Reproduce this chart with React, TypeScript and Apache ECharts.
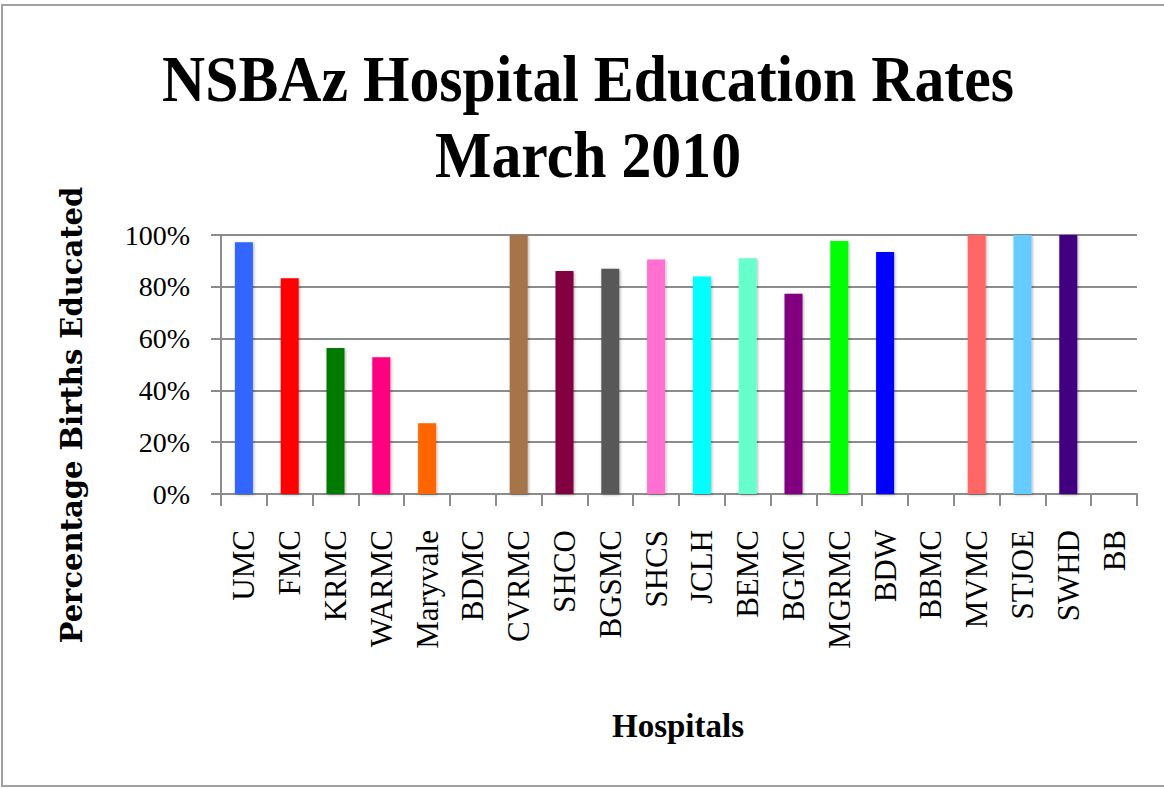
import React, { useEffect, useRef } from "react";
import * as echarts from "echarts";

const hospitals = ["UMC", "FMC", "KRMC", "WARMC", "Maryvale", "BDMC", "CVRMC", "SHCO", "BGSMC", "SHCS", "JCLH", "BEMC", "BGMC", "MGRMC", "BDW", "BBMC", "MVMC", "STJOE", "SWHD", "BB"];
const rates = [97.2, 83.3, 56.4, 52.8, 27.3, 0, 100, 86.1, 87.0, 90.5, 84.0, 91.0, 77.3, 97.7, 93.4, 0, 100, 100, 100, 0];
const barColors = ["#3366FF", "#FF0000", "#007A00", "#FF0080", "#FF6600", "#999999", "#A57448", "#800040", "#595959", "#FF6FD0", "#00FFFF", "#66FFCC", "#800080", "#00FF00", "#0000FF", "#999999", "#FF6666", "#66CCFF", "#400080", "#999999"];
const yTicks = [0, 20, 40, 60, 80, 100];
const titleLines = ["NSBAz Hospital Education Rates", "March 2010"];
const yAxisTitle = "Percentage Births Educated";
const xAxisTitle = "Hospitals";

export default function App() {
  const ref = useRef<HTMLDivElement>(null);
  useEffect(() => {
    if (!ref.current) return;
    const chart = echarts.init(ref.current, null, { renderer: "svg" });
    const axisGray = "#8c8c8c";
    chart.setOption({
      animation: false,
      backgroundColor: "#ffffff",
      graphic: [
        {
          type: "rect",
          shape: { x: 2, y: 5, width: 1180, height: 781 },
          style: { fill: "none", stroke: "#a0a0a0", lineWidth: 2 },
          silent: true,
        },
        {
          type: "text",
          x: 588,
          y: 79,
          scaleX: 0.92,
          style: {
            text: titleLines[0],
            font: "bold 65px 'Liberation Serif'",
            fill: "#000",
            textAlign: "center",
            textVerticalAlign: "middle",
          },
        },
        {
          type: "text",
          x: 588,
          y: 155,
          scaleX: 0.92,
          style: {
            text: titleLines[1],
            font: "bold 65px 'Liberation Serif'",
            fill: "#000",
            textAlign: "center",
            textVerticalAlign: "middle",
          },
        },
        {
          type: "text",
          x: 678,
          y: 726,
          style: {
            text: xAxisTitle,
            font: "bold 33px 'Liberation Serif'",
            fill: "#000",
            textAlign: "center",
            textVerticalAlign: "middle",
          },
        },
        {
          type: "text",
          x: 72,
          y: 415,
          rotation: Math.PI / 2,
          style: {
            text: yAxisTitle,
            font: "bold 29px 'DejaVu Serif'",
            fill: "#000",
            textAlign: "center",
            textVerticalAlign: "middle",
          },
        },
      ],
      grid: { left: 221, right: 27, top: 235, bottom: 295, containLabel: false },
      xAxis: {
        type: "category",
        data: hospitals,
        boundaryGap: true,
        axisLine: { show: true, lineStyle: { color: axisGray, width: 2 } },
        axisTick: { show: true, length: 12, alignWithLabel: false, lineStyle: { color: axisGray, width: 2 } },
        axisLabel: {
          interval: 0,
          rotate: 90,
          margin: 36,
          color: "#000",
          fontFamily: "'Liberation Serif'",
          fontSize: 31,
        },
      },
      yAxis: {
        type: "value",
        min: yTicks[0],
        max: yTicks[yTicks.length - 1],
        interval: 20,
        axisLine: { show: true, lineStyle: { color: axisGray, width: 2 } },
        axisTick: { show: true, length: 10, inside: false, lineStyle: { color: axisGray, width: 2 } },
        splitLine: { show: true, lineStyle: { color: axisGray, width: 2 } },
        axisLabel: {
          formatter: "{value}%",
          margin: 31,
          color: "#000",
          fontFamily: "'Liberation Serif'",
          fontSize: 28,
        },
      },
      series: [
        {
          type: "bar",
          data: rates.map((v, i) => ({ value: v, itemStyle: { color: barColors[i] } })),
          barWidth: 18,
          itemStyle: {
            shadowBlur: 3,
            shadowColor: "rgba(0,0,0,0.3)",
            shadowOffsetX: 1,
            shadowOffsetY: 1,
          },
        },
      ],
    });
    return () => chart.dispose();
  }, []);
  return (
    <div
      ref={ref}
      style={{ position: "fixed", left: 0, top: 0, width: 1164, height: 789, background: "#fff" }}
    />
  );
}
